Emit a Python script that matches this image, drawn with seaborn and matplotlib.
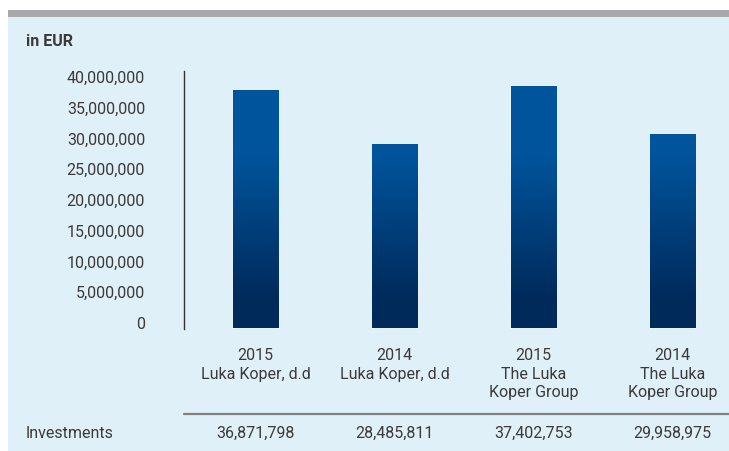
import numpy as np
import matplotlib.pyplot as plt
import seaborn as sns
import pandas as pd
from matplotlib.colors import LinearSegmentedColormap
from matplotlib.patches import Rectangle
from matplotlib.lines import Line2D
import matplotlib.transforms as mtransforms

# data
years = ['2015', '2014', '2015', '2014']
entities = ['Luka Koper, d.d', 'Luka Koper, d.d', 'The Luka\nKoper Group', 'The Luka\nKoper Group']
investments = [36871798, 28485811, 37402753, 29958975]
ytick_values = [0, 5000000, 10000000, 15000000, 20000000, 25000000, 30000000, 35000000, 40000000]

df = pd.DataFrame({'label': [y + '\n' + e for y, e in zip(years, entities)],
                   'value': investments})

sns.set_theme(style='white')
plt.rcParams['font.family'] = ['Roboto', 'DejaVu Sans']
txt = '#3a3a3a'
fs = 11.5

W, H = 729, 451
fig = plt.figure(figsize=(W / 100, H / 100), dpi=100)
fig.patch.set_facecolor('white')
# panel background and grey band on top
fig.patches.append(Rectangle((8 / W, 0), 1 - 8 / W, 1 - 17 / H, transform=fig.transFigure,
                             facecolor='#e0f0f9', edgecolor='none', zorder=-10))
fig.patches.append(Rectangle((8 / W, 1 - 17 / H), 1 - 8 / W, 7 / H, transform=fig.transFigure,
                             facecolor='#a8a8aa', edgecolor='none', zorder=-10))

ax = fig.add_axes([186 / W, 1 - 328.5 / H, 556 / W, 257.5 / H])
ax.set_facecolor('none')
sns.barplot(data=df, x='label', y='value', ax=ax, width=0.33, color='#00549c', saturation=1)
ax.set_xlim(-0.5, 3.5)
ymax = 39.74e6
ax.set_ylim(0, ymax)

# vertical gradient inside the bars (dark at the bottom, blue from ~26M up)
cmap = LinearSegmentedColormap.from_list('grad', [(0, '#002a5a'), (0.11, '#002a5a'),
                                                  (0.67, '#00549c'), (1, '#00549c')])
grad = np.linspace(0, 1, 256).reshape(-1, 1)
for bar in ax.patches:
    im = ax.imshow(grad, cmap=cmap, origin='lower', aspect='auto',
                   extent=[bar.get_x(), bar.get_x() + bar.get_width(), 0, ymax], zorder=2)
    im.set_clip_path(bar)
    bar.set_facecolor('none')
ax.set_xlim(-0.5, 3.5)
ax.set_ylim(0, ymax)

for s in ['top', 'right', 'bottom']:
    ax.spines[s].set_visible(False)
ax.spines['left'].set_color('#333333')
ax.spines['left'].set_linewidth(1)
ax.spines['left'].set_position(('outward', 1.5))
ax.set_xlabel('')
ax.set_ylabel('')
ax.set_yticks([])
ax.tick_params(axis='x', length=0, pad=14, labelsize=fs, labelcolor=txt)
for t in ax.get_xticklabels():
    t.set_linespacing(1.3)
    t.set_verticalalignment('top')

# y tick labels sit on their own scale in the reference
lab = ax.twinx()
lab.set_ylim(-0.894e6, 40.976e6)
lab.set_yticks(ytick_values)
lab.set_yticklabels([f'{v:,}' for v in ytick_values])
lab.yaxis.tick_left()
lab.tick_params(axis='y', length=0, pad=29.5, labelsize=fs, labelcolor=txt)
for s in lab.spines.values():
    s.set_visible(False)

fig.text(26 / W, 1 - 42 / H, 'in EUR', fontsize=fs, fontweight='bold', color=txt, va='center')

# table row
fig.lines.append(Line2D([184 / W, 1], [1 - 414 / H, 1 - 414 / H], transform=fig.transFigure,
                        color='#808080', lw=1.6))
fig.text(26 / W, 1 - 433 / H, 'Investments', fontsize=fs, color=txt, va='center')
trans = mtransforms.blended_transform_factory(ax.transData, fig.transFigure)
for i, v in enumerate(investments):
    ax.text(i, 1 - 433 / H, f'{v:,}', transform=trans, ha='center', va='center',
            fontsize=fs, color=txt, clip_on=False)

fig.savefig('out.png', dpi=100, facecolor=fig.get_facecolor())
